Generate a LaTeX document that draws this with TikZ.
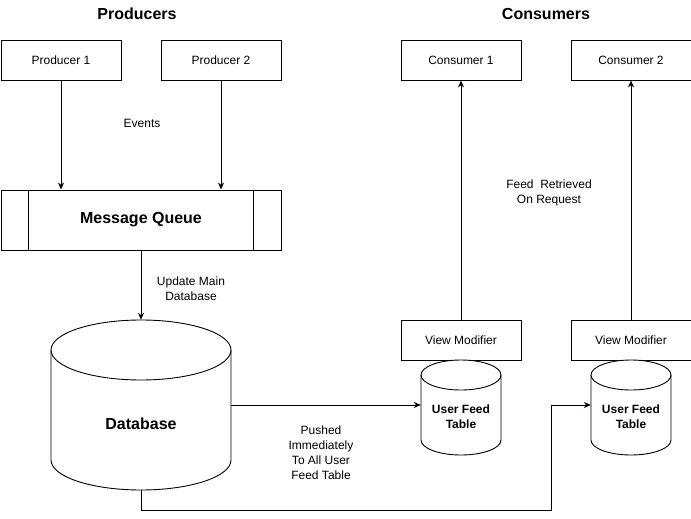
\documentclass[tikz,border=0pt]{standalone}
\usepackage{fontspec}
\setmainfont{Liberation Sans}
\usetikzlibrary{shapes.geometric, arrows.meta, positioning, calc}
\definecolor{myline}{RGB}{0,0,0}
\tikzset{
  block/.style={rectangle, draw=myline, fill=white,
    minimum width=120pt, minimum height=40pt, inner sep=0pt,
    font=\fontsize{12}{15}\selectfont, line width=0.9pt},
  queuebox/.style={rectangle, draw=myline, fill=white,
    minimum width=280pt, minimum height=60pt, inner sep=0pt,
    font=\fontsize{16}{19}\selectfont\bfseries, line width=0.9pt},
  storenode/.style={rectangle, draw=none, inner sep=0pt},
  arrow/.style={-{Stealth[length=7pt, width=6pt]}, line width=0.9pt, color=myline},
  line/.style={line width=0.9pt, color=myline},
  note/.style={align=center, font=\fontsize{12}{15}\selectfont},
  title/.style={font=\fontsize{16}{19}\selectfont\bfseries},
  storetext/.style={align=center, font=\fontsize{12}{15}\selectfont\bfseries}
}
% cylinder outline: centre x, top y, x radius, bottom y, y radius
\newcommand{\storeoutline}[5]{%
  \draw[line, fill=white] (#1-#3,#2+#5) -- (#1-#3,#4-#5)
    arc[start angle=180, end angle=360, x radius=#3pt, y radius=#5pt]
    -- (#1+#3,#2+#5)
    arc[start angle=0, end angle=180, x radius=#3pt, y radius=#5pt] -- cycle;
  \draw[line] (#1-#3,#2+#5) arc[start angle=180, end angle=360, x radius=#3pt, y radius=#5pt];
}
\begin{document}
\begin{tikzpicture}[x=1pt, y=-1pt]
  \useasboundingbox (-1,0) rectangle (690,519);

  % Column titles
  \node[title] (prodtitle) at (136,14) {Producers};
  \node[title] (constitle) at (545,14) {Consumers};

  % Producers and consumers
  \node[block] (p1) at (60,60) {Producer 1};
  \node[block] (p2) at (220,60) {Producer 2};
  \node[block] (c1) at (460,60) {Consumer 1};
  \node[block] (c2) at (630,60) {Consumer 2};

  % Message queue with side bars
  \node[queuebox] (mq) at (140,220) {Message Queue};
  \draw[line] ([xshift=28pt]mq.north west) -- ([xshift=28pt]mq.south west);
  \draw[line] ([xshift=-28pt]mq.north east) -- ([xshift=-28pt]mq.south east);

  % Main database
  \storeoutline{140}{320}{90}{490}{30}
  \node[storenode, minimum width=180pt, minimum height=170pt] (db) at (140,405) {};
  \node[title] (dblabel) at (140,424) {Database};

  % View modifiers and user feed tables
  \node[block] (vm1) at (460,340) {View Modifier};
  \node[block] (vm2) at (630,340) {View Modifier};
  \storeoutline{460}{360}{40}{455}{15}
  \storeoutline{630}{360}{40}{455}{15}
  \node[storenode, minimum width=80pt, minimum height=90pt] (uft1) at (460,405) {};
  \node[storenode, minimum width=80pt, minimum height=90pt] (uft2) at (630,405) {};
  \node[storetext] (uft1label) at (460,417) {User Feed\\Table};
  \node[storetext] (uft2label) at (630,417) {User Feed\\Table};

  % Arrows
  \draw[arrow] (p1.south) -- (p1.south |- mq.north);
  \draw[arrow] (p2.south) -- (p2.south |- mq.north);
  \draw[arrow] (mq.south) -- (db.north);
  \draw[arrow] (vm1.north) -- (c1.south);
  \draw[arrow] (vm2.north) -- (c2.south);
  \draw[arrow] (db.east) -- (uft1.west);
  \coordinate (bend) at (550,510);
  \draw[arrow] (db.south) |- (bend) |- (uft2.west);

  % Labels
  \node[note] (events) at (141,123) {Events};
  \node[note] (update) at (190,289) {Update Main\\Database};
  \node[note] (retrieve) at (548,193) {Feed~ Retrieved\\On Request};
  \node[note] (pushed) at (320,453) {Pushed\\Immediately\\To All User\\Feed Table};
\end{tikzpicture}
\end{document}
